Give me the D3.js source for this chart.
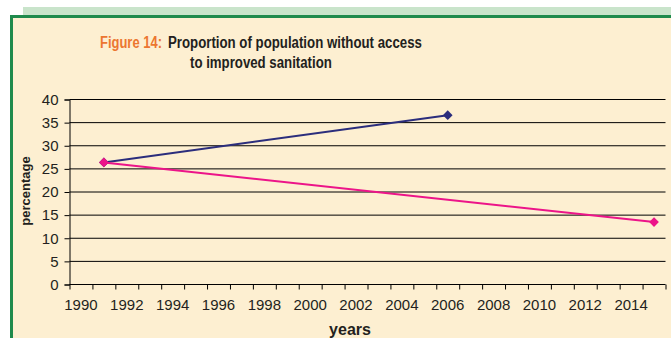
<!DOCTYPE html>
<html>
<head>
<meta charset="utf-8">
<script src="https://cdn.jsdelivr.net/npm/d3@7"></script>
<style>
  body { margin: 0; background: #fff; }
  text { font-family: "Liberation Sans", Arial, sans-serif; fill: #231f20; }
</style>
</head>
<body>
<div class="container"></div>
<script>
// data
const years = d3.range(1990, 2016);
const labelYears = d3.range(1990, 2016, 2);
const yTicks = [0, 5, 10, 15, 20, 25, 30, 35, 40];
const blueYears = [1991, 2006];
const blueValues = [26.4, 36.6];
const pinkYears = [1991, 2015];
const pinkValues = [26.4, 13.5];

const w = 671, h = 338;

const svg = d3.select('.container')
  .append('svg')
  .attr('width', w)
  .attr('height', h);

// frame: light green strip, beige panel, dark green border
svg.append('rect').attr('x', 23).attr('y', 7).attr('width', w - 23).attr('height', 9).attr('fill', '#c9e4cb');
svg.append('rect').attr('x', 10).attr('y', 15).attr('width', w - 10).attr('height', h - 15).attr('fill', '#1f8a4c');
svg.append('rect').attr('x', 13).attr('y', 18).attr('width', w - 13).attr('height', h - 18).attr('fill', '#fdefd1');

// title (narrow font in the original, so squeeze each part to its width)
function titlePart(txt, x0, len, yy, color) {
  const g = svg.append('g');
  const t = g.append('text')
    .attr('x', 0).attr('y', 0)
    .attr('font-size', 17).attr('font-weight', 'bold')
    .style('fill', color)
    .text(txt);
  const sx = len / t.node().getComputedTextLength();
  g.attr('transform', `translate(${x0},${yy}) scale(${sx},1)`);
}
titlePart('Figure 14:', 100, 62, 48, '#ec7630');
titlePart('Proportion of population without access', 168, 254, 48, '#231f20');
titlePart('to improved sanitation', 190, 142, 68, '#231f20');

// scales: each year is a category slot, points sit in the slot centre
const x = d3.scaleLinear().domain([1990, 2016]).range([69.5, 665.5]);
const y = d3.scaleLinear().domain([0, 40]).range([284.5, 99.5]);

// gridlines
svg.append('g')
  .selectAll('line')
  .data(yTicks.slice(1))
  .enter()
  .append('line')
  .attr('x1', x(1990)).attr('x2', x(2016))
  .attr('y1', d => y(d)).attr('y2', d => y(d))
  .attr('stroke', '#000').attr('stroke-width', 1);

// y axis
const yAxis = d3.axisLeft(y).tickValues(yTicks).tickSize(5).tickPadding(6);
const gy = svg.append('g')
  .attr('transform', `translate(${x(1990)},0)`)
  .call(yAxis);
gy.select('.domain').attr('stroke', '#000');
gy.selectAll('.tick line').attr('stroke', '#000');
gy.selectAll('.tick text').attr('font-size', 15).attr('font-family', '"Liberation Sans", Arial, sans-serif').attr('fill', '#231f20');

// x axis: ticks on slot boundaries, labels in slots
const xAxis = d3.axisBottom(x).tickValues(d3.range(1990, 2017)).tickSize(5).tickFormat('');
const gx = svg.append('g')
  .attr('transform', `translate(0,${y(0)})`)
  .call(xAxis);
gx.select('.domain').attr('stroke', '#000').attr('d', `M${x(1990)},0H${x(2016)}`);
gx.selectAll('.tick line').attr('stroke', '#000');

svg.append('g')
  .selectAll('text')
  .data(labelYears)
  .enter()
  .append('text')
  .attr('x', d => x(d + 0.5))
  .attr('y', 310)
  .attr('text-anchor', 'middle')
  .attr('font-size', 15)
  .text(d => d);

// axis titles
svg.append('text')
  .attr('x', 350).attr('y', 335)
  .attr('text-anchor', 'middle')
  .attr('font-size', 16).attr('font-weight', 'bold')
  .text('years');

svg.append('text')
  .attr('transform', 'translate(30,191) rotate(-90)')
  .attr('text-anchor', 'middle')
  .attr('font-size', 13).attr('font-weight', 'bold')
  .text('percentage');

// series
function drawSeries(xs, vs, color) {
  const pts = xs.map((d, i) => [d + 0.5, vs[i]]);
  svg.append('path')
    .datum(pts)
    .attr('fill', 'none')
    .attr('stroke', color)
    .attr('stroke-width', 2)
    .attr('d', d3.line().x(d => x(d[0])).y(d => y(d[1])));
  svg.append('g')
    .selectAll('path')
    .data(pts)
    .enter()
    .append('path')
    .attr('d', d3.symbol(d3.symbolDiamond2, 60))
    .attr('transform', d => `translate(${x(d[0])},${y(d[1])})`)
    .attr('fill', color);
}

drawSeries(blueYears, blueValues, '#2b2d7c');
drawSeries(pinkYears, pinkValues, '#ec1489');
</script>
</body>
</html>
